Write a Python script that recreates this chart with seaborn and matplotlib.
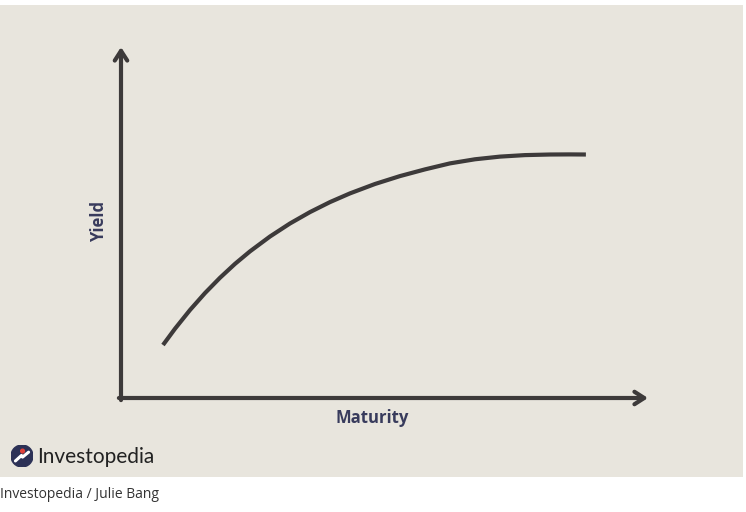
import numpy as np
import pandas as pd
import matplotlib
matplotlib.use("Agg")
import matplotlib.pyplot as plt
from matplotlib.patches import Circle
import seaborn as sns

# yield curve (arbitrary units, no ticks on the chart)
maturity = [1.000, 1.286, 1.643, 2.000, 2.357, 2.714, 3.071, 3.548, 4.024, 4.500, 4.976,
            5.452, 6.048, 6.643, 7.238, 7.833, 8.429, 9.024, 9.619, 10.214, 10.690, 11.071]
yields = [1.510, 1.974, 2.507, 2.989, 3.425, 3.821, 4.177, 4.601, 4.972, 5.296, 5.581,
          5.829, 6.097, 6.322, 6.513, 6.684, 6.801, 6.877, 6.920, 6.937, 6.940, 6.937]

x_label = "Maturity"
y_label = "Yield"
brand = "Investopedia"
credit = "Investopedia / Julie Bang"

df = pd.DataFrame({"Maturity": maturity, "Yield": yields})

sns.set_style("white")
plt.rcParams["font.family"] = ["Open Sans", "DejaVu Sans"]

BG = "#e8e5dd"
INK = "#3d3a3a"
NAVY = "#383b5c"

W, H = 746, 512
fig = plt.figure(figsize=(W / 100, H / 100), dpi=100)
fig.patch.set_facecolor("white")

# beige panel behind everything
bg = fig.add_axes([0, 1 - 477 / H, 743 / W, 472 / H], zorder=-5)
bg.set_facecolor(BG)
bg.set_xticks([])
bg.set_yticks([])
for s in bg.spines.values():
    s.set_visible(False)

ax = fig.add_axes([121 / W, 1 - 398 / H, 527 / W, 351 / H], zorder=1)
ax.set_facecolor("none")
sns.lineplot(data=df, x="Maturity", y="Yield", ax=ax, color=INK, lw=3.0,
             solid_capstyle="butt", solid_joinstyle="round")
ax.set_xlim(0, 12.55)
ax.set_ylim(0, 10)
ax.set_xticks([])
ax.set_yticks([])
ax.set_xlabel("")
ax.set_ylabel("")
for s in ax.spines.values():
    s.set_visible(False)

# axes with open arrow heads
arrow = dict(arrowstyle="->,head_length=0.7,head_width=0.45", color=INK, lw=3.0,
             shrinkA=0, shrinkB=0)
ax.annotate("", xy=(1, 0), xytext=(-0.004, 0), xycoords="axes fraction",
            arrowprops=arrow, annotation_clip=False)
ax.annotate("", xy=(0, 1), xytext=(0, -0.006), xycoords="axes fraction",
            arrowprops=arrow, annotation_clip=False)

fig.text(372 / W, 1 - 418 / H, x_label, ha="center", va="center",
         fontsize=12, fontweight="bold", color=NAVY)
fig.text(99 / W, 1 - 222 / H, y_label, ha="center", va="center", rotation=90,
         fontsize=12, fontweight="bold", color=NAVY)

# logo
logo = fig.add_axes([11 / W, 1 - 467 / H, 22 / W, 22 / H], zorder=2)
logo.set_xlim(-1, 1)
logo.set_ylim(-1, 1)
logo.set_aspect("equal")
logo.axis("off")
logo.add_patch(Circle((0, 0), 1, color="#2c3156"))
logo.plot([-0.6, -0.05, 0.05, 0.6], [-0.45, 0.05, -0.1, 0.35], color="white",
          lw=2.2, solid_capstyle="round")
logo.add_patch(Circle((0.05, 0.45), 0.17, color="#e0423a"))

fig.text(37 / W, 1 - 457 / H, brand, ha="left", va="center", fontsize=15,
         family=["Lato", "DejaVu Sans"], color="#222222")
fig.text(0, 1 - 494 / H, credit, ha="left", va="center", fontsize=10,
         color="#333333")

fig.savefig("out.png", dpi=100, facecolor=fig.get_facecolor())
